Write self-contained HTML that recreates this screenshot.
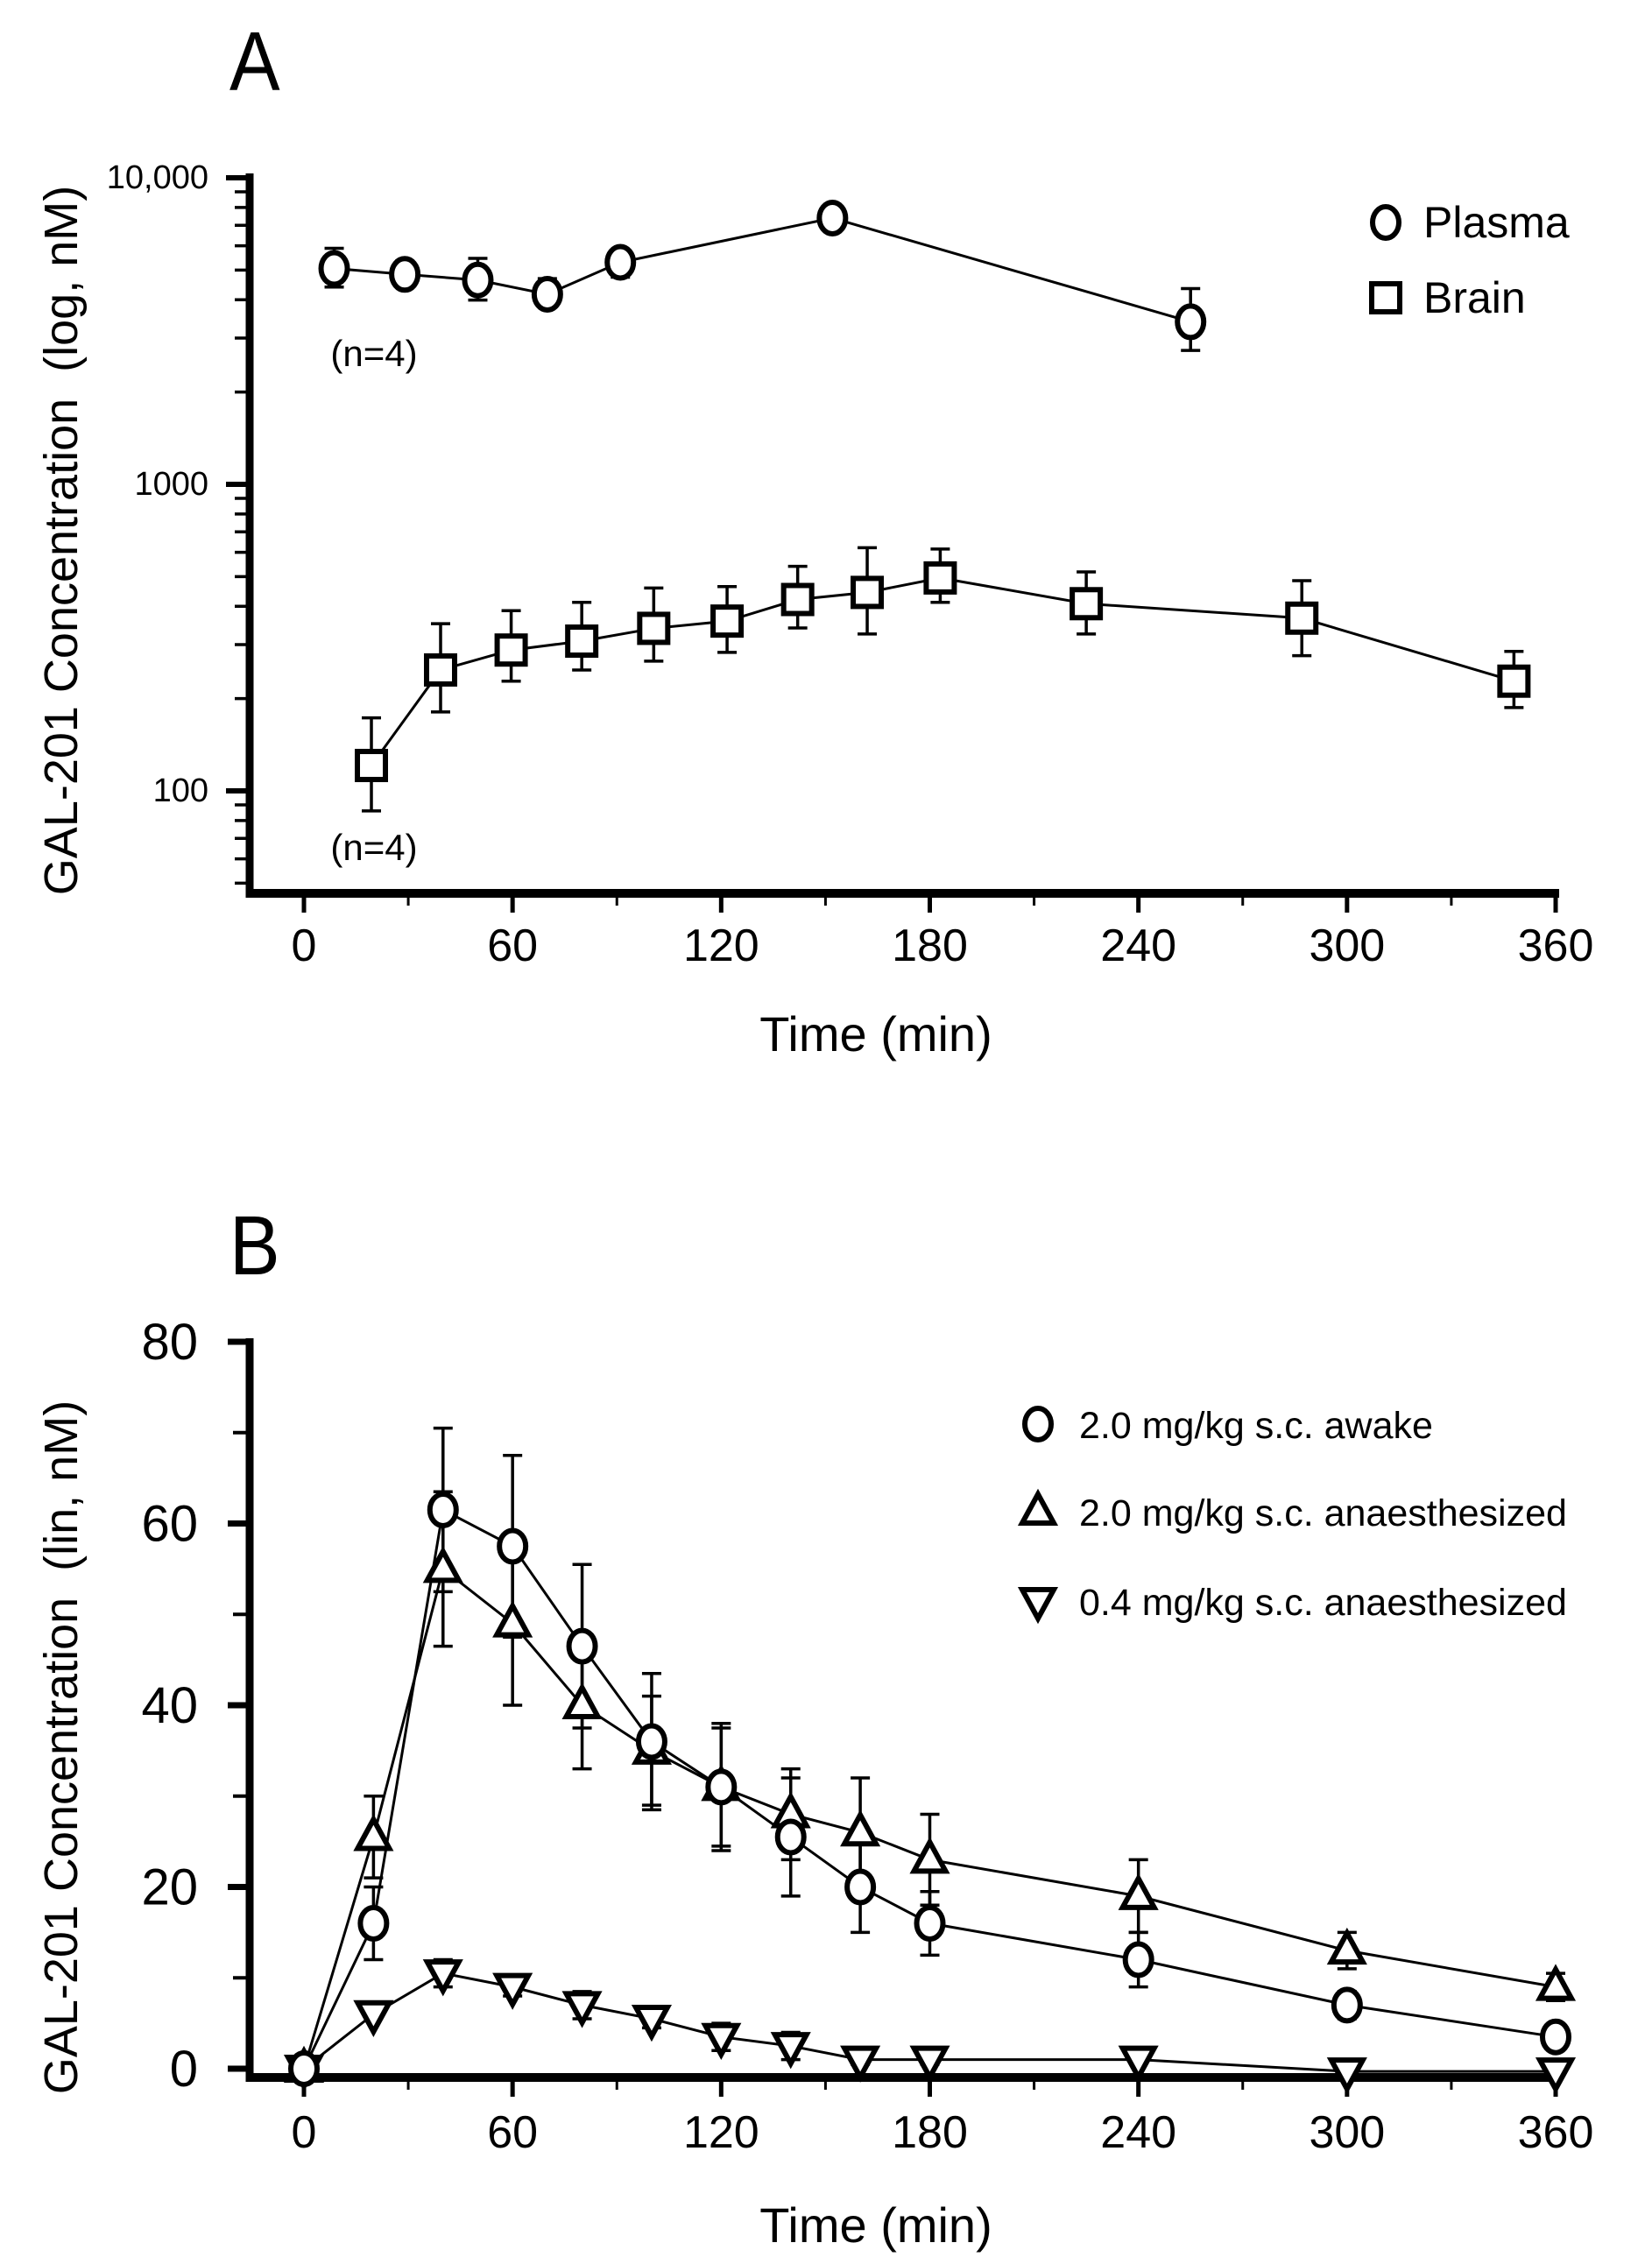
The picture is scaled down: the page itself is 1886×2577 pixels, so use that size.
<!DOCTYPE html>
<html><head><meta charset="utf-8">
<style>
html,body{margin:0;padding:0;background:#fff;}
svg{display:block;}
text{font-family:"Liberation Sans Narrow","Liberation Sans",sans-serif;fill:#000;white-space:pre;}
</style></head>
<body>
<svg id="fig" width="1886" height="2577" viewBox="0 0 1886 2577" xmlns="http://www.w3.org/2000/svg">
<text x="262" y="103" font-size="96" transform="translate(262,0) scale(0.9,1) translate(-262,0)">A</text>
<text x="262" y="1455" font-size="96" transform="translate(262,0) scale(0.9,1) translate(-262,0)">B</text>
<g id="ga"></g>
<g id="gb"></g>
</svg>
<script>
// ---- Panel A data (log scale) ----
const plasmaTime = [8.7, 29, 50, 70, 91, 152, 255];
const plasmaVal  = [5060, 4840, 4640, 4170, 5300, 7390, 3390];
const plasmaHi   = [5890, 5350, 5460, 4690, 5820, 8060, 4350];
const plasmaLo   = [4400, 4400, 3990, 3820, 4740, 6700, 2735];
const brainTime  = [19.4, 39.3, 59.6, 79.9, 100.6, 121.7, 142, 162, 183, 225, 287, 348];
const brainVal   = [121, 248, 288, 308, 339, 358, 421, 444, 495, 408, 366, 228];
const brainHi    = [173, 351, 387, 412, 459, 464, 540, 621, 615, 518, 485, 285];
const brainLo    = [86, 181, 228, 248, 265, 283, 340, 325, 412, 325, 276, 187];
const aYTicks    = [100, 1000, 10000];
const aYTickLabels = ["100", "1000", "10,000"];
// ---- Panel B data (linear) ----
const bTime  = [0, 20, 40, 60, 80, 100, 120, 140, 160, 180, 240, 300, 360];
const awakeVal = [0, 16, 61.5, 57.5, 46.5, 36, 31, 25.5, 20, 16, 12, 7, 3.5];
const awakeErr = [0, 4, 9, 10, 9, 7.5, 7, 6.5, 5, 3.5, 3, 1.5, 1];
const anaVal   = [0, 25.5, 55, 49, 40, 35, 31, 28, 26, 23, 19, 13, 9];
const anaErr   = [0, 4.5, 8.5, 9, 7, 6, 6.5, 5, 6, 5, 4, 2, 1.5];
const lowVal   = [0, 6, 10.5, 9, 7, 5.5, 3.5, 2.5, 1, 1, 1, -0.3, -0.3];
const lowErr   = [0, 0, 1.5, 1, 1.5, 1, 1.5, 1.5, 0.5, 0.5, 0.3, 0, 0];
const bYTicks  = [0, 20, 40, 60, 80];
const xTicks   = [0, 60, 120, 180, 240, 300, 360];

const NS = "http://www.w3.org/2000/svg";
function mk(parent, tag, attrs, txt) {
  const e = document.createElementNS(NS, tag);
  for (const k in attrs) e.setAttribute(k, attrs[k]);
  if (txt !== undefined) e.textContent = txt;
  parent.appendChild(e);
  return e;
}
const xS = t => 347 + t * (1776 - 347) / 360;
const yA = v => 203 + (4 - Math.log10(v)) * 350;
const yB = v => 2362 - v * (2362 - 1532) / 80;

function xAxis(g, yLine, labelY, titleY) {
  const l = mk(g, "line", {x1: 281, y1: yLine, x2: 1780, y2: yLine, stroke: "#000", "stroke-width": 10});
  
  
  for (let t = 0; t <= 360; t += 30) {
    const major = t % 60 === 0;
    const tk = mk(g, "line", {x1: xS(t), y1: yLine, x2: xS(t), y2: yLine + (major ? 22 : 14), stroke: "#000", "stroke-width": major ? 5 : 3});
    
    
  }
  xTicks.forEach(t => {
    const tx = mk(g, "text", {x: xS(t), y: labelY, "font-size": 52, "text-anchor": "middle"}, String(t));
    
    
  });
  const tt = mk(g, "text", {x: 1000, y: titleY, "font-size": 56, "text-anchor": "middle"}, "Time (min)");
  
  
}
function errBar(g, x, y1, y2) {
  const e = mk(g, "path", {d: `M${x},${y1}V${y2}M${x-11},${y1}H${x+11}M${x-11},${y2}H${x+11}`, stroke: "#000", "stroke-width": 3.5, fill: "none"});
  
  
}
function marker(g, shape, x, y, name) {
  let m;
  const st = {fill: "#fff", stroke: "#000", "stroke-width": 6};
  if (shape === "circle") m = mk(g, "ellipse", Object.assign({cx: x, cy: y, rx: 15, ry: 18}, st));
  else if (shape === "square") m = mk(g, "rect", Object.assign({x: x - 16, y: y - 16, width: 32, height: 32}, st));
  else if (shape === "up") m = mk(g, "path", Object.assign({d: `M${x},${y-20}L${x+18},${y+13}L${x-18},${y+13}Z`}, st));
  else m = mk(g, "path", Object.assign({d: `M${x},${y+20}L${x+18},${y-13}L${x-18},${y-13}Z`}, st));
  
  
  return m;
}
function polyline(g, xs, ys, name) {
  const p = mk(g, "polyline", {points: xs.map((x, i) => x + "," + ys[i]).join(" "), fill: "none", stroke: "#000", "stroke-width": 3});
  
  
}

// ---------- Panel A ----------
const ga = document.getElementById("ga");
const ayl = mk(ga, "line", {x1: 285, y1: 198, x2: 285, y2: 1025, stroke: "#000", "stroke-width": 9});


for (let dec = 10; dec <= 1000; dec *= 10) {
  for (let k = 1; k <= 10; k++) {
    const v = dec * k;
    if (v < 47 || v > 10000) continue;
    const major = (k === 1 || k === 10);
    if (k === 10 && dec !== 1000) continue;
    const y = yA(v);
    const tk = mk(ga, "line", {x1: major ? 258 : 268, y1: y, x2: 285, y2: y, stroke: "#000", "stroke-width": major ? 6 : 3.5});
    
    
  }
}
aYTicks.forEach((v, i) => {
  const t = mk(ga, "text", {x: 238, y: yA(v) + 12, "font-size": 38, "text-anchor": "end"}, aYTickLabels[i]);
  
  
});
const aTitle = mk(ga, "text", {x: 0, y: 0, "font-size": 54, "text-anchor": "middle", transform: "translate(88,617) rotate(-90)", "font-family": "Liberation Sans, sans-serif"}, "GAL-201 Concentration  (log, nM)");


xAxis(ga, 1020, 1097, 1200);

polyline(ga, plasmaTime.map(xS), plasmaVal.map(yA), "plasma-line");
polyline(ga, brainTime.map(xS), brainVal.map(yA), "brain-line");
plasmaTime.forEach((t, i) => errBar(ga, xS(t), yA(plasmaHi[i]), yA(plasmaLo[i])));
brainTime.forEach((t, i) => errBar(ga, xS(t), yA(brainHi[i]), yA(brainLo[i])));
plasmaTime.forEach((t, i) => marker(ga, "circle", xS(t), yA(plasmaVal[i]), "plasma-point"));
brainTime.forEach((t, i) => marker(ga, "square", xS(t), yA(brainVal[i]), "brain-point"));
const n1 = mk(ga, "text", {x: 427, y: 418, "font-size": 42, "text-anchor": "middle"}, "(n=4)");


const n2 = mk(ga, "text", {x: 427, y: 982, "font-size": 42, "text-anchor": "middle"}, "(n=4)");


marker(ga, "circle", 1582, 254, "legend-plasma-marker");
const lp = mk(ga, "text", {x: 1625, y: 271, "font-size": 50}, "Plasma");


marker(ga, "square", 1582, 340, "legend-brain-marker");
const lb = mk(ga, "text", {x: 1625, y: 357, "font-size": 50}, "Brain");



// ---------- Panel B ----------
const gb = document.getElementById("gb");
const byl = mk(gb, "line", {x1: 285, y1: 1528, x2: 285, y2: 2377, stroke: "#000", "stroke-width": 9});


for (let v = 0; v <= 80; v += 10) {
  const major = v % 20 === 0;
  const tk = mk(gb, "line", {x1: major ? 260 : 266, y1: yB(v), x2: 285, y2: yB(v), stroke: "#000", "stroke-width": major ? 7 : 4});
  
  
}
bYTicks.forEach(v => {
  const t = mk(gb, "text", {x: 226, y: yB(v) + 20, "font-size": 58, "text-anchor": "end"}, String(v));
  
  
});
const bTitle = mk(gb, "text", {x: 0, y: 0, "font-size": 54, "text-anchor": "middle", transform: "translate(88,1995) rotate(-90)", "font-family": "Liberation Sans, sans-serif"}, "GAL-201 Concentration  (lin, nM)");


xAxis(gb, 2372, 2452, 2560);

polyline(gb, bTime.map(xS), awakeVal.map(yB), "awake-line");
polyline(gb, bTime.map(xS), anaVal.map(yB), "anaesthetized-2mg-line");
polyline(gb, bTime.map(xS), lowVal.map(yB), "anaesthetized-04mg-line");
bTime.forEach((t, i) => { if (awakeErr[i] > 0) errBar(gb, xS(t), yB(awakeVal[i] + awakeErr[i]), yB(awakeVal[i] - awakeErr[i])); });
bTime.forEach((t, i) => { if (anaErr[i] > 0) errBar(gb, xS(t), yB(anaVal[i] + anaErr[i]), yB(anaVal[i] - anaErr[i])); });
bTime.forEach((t, i) => { if (lowErr[i] > 0) errBar(gb, xS(t), yB(lowVal[i] + lowErr[i]), yB(lowVal[i] - lowErr[i])); });
bTime.forEach((t, i) => marker(gb, "down", xS(t), yB(lowVal[i]), "anaesthetized-04mg-point"));
bTime.forEach((t, i) => marker(gb, "up", xS(t), yB(anaVal[i]), "anaesthetized-2mg-point"));
bTime.forEach((t, i) => marker(gb, "circle", xS(t), yB(awakeVal[i]), "awake-point"));
marker(gb, "circle", 1185, 1626, "legend-awake-marker");
marker(gb, "up", 1185, 1726, "legend-anaesthetized-2mg-marker");
marker(gb, "down", 1185, 1828, "legend-anaesthetized-04mg-marker");
const l1 = mk(gb, "text", {x: 1232, y: 1642, "font-size": 43}, "2.0 mg/kg s.c. awake");


const l2 = mk(gb, "text", {x: 1232, y: 1742, "font-size": 43}, "2.0 mg/kg s.c. anaesthesized");


const l3 = mk(gb, "text", {x: 1232, y: 1844, "font-size": 43}, "0.4 mg/kg s.c. anaesthesized");


</script>
</body></html>
